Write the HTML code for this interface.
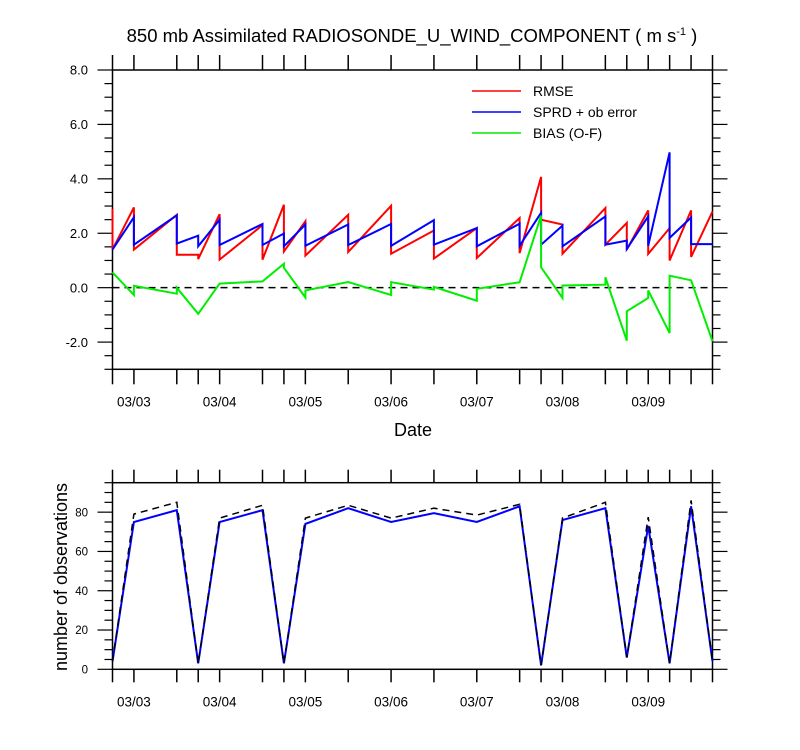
<!DOCTYPE html>
<html><head><meta charset="utf-8"><style>
html,body{margin:0;padding:0;background:#fff;}
svg{display:block;font-family:"Liberation Sans",Arial,sans-serif;}
</style></head><body>
<svg id="chart" width="800" height="750" viewBox="0 0 800 750" xmlns="http://www.w3.org/2000/svg">
<rect width="800" height="750" fill="#fff"/>
<text x="412" y="42" font-size="18.5" text-anchor="middle">850 mb Assimilated RADIOSONDE_U_WIND_COMPONENT ( m s<tspan dy="-7" font-size="11">-1</tspan><tspan dy="7"> )</tspan></text>
<g id="top"></g>
<g id="bot"></g>
<g>
 <line x1="472" y1="91" x2="521" y2="91" stroke="#ff0000" stroke-width="1.5"/>
 <text x="533" y="96" font-size="14">RMSE</text>
 <line x1="472" y1="112" x2="521" y2="112" stroke="#0000ff" stroke-width="1.5"/>
 <text x="533" y="117" font-size="14">SPRD + ob error</text>
 <line x1="472" y1="133" x2="521" y2="133" stroke="#00ee00" stroke-width="1.5"/>
 <text x="533" y="138" font-size="14">BIAS (O-F)</text>
</g>
<text x="413" y="436" font-size="18" text-anchor="middle">Date</text>
<text x="0" y="0" font-size="18" text-anchor="middle" transform="translate(67,577) rotate(-90)">number of observations</text>
</svg>
<script>
// hours from 03/02 18Z
var times = [0,6,18,24,30,42,48,54,66,78,90,102,114,120,126,138,144,150,156,162,168];
var rmseA = [2.9,2.95,2.68,1.21,2.7,2.3,3.05,2.44,2.68,3.01,2.1,2.19,2.56,4.07,2.32,2.93,2.38,2.84,2.19,2.84,2.8];
var rmseB = [1.4,1.4,1.21,1.05,1.03,1.03,1.33,1.18,1.31,1.25,1.07,1.09,1.27,2.5,1.25,1.58,1.4,1.24,1.0,1.13,2.8];
var sprdA = [1.4,2.59,2.66,1.91,2.5,2.34,1.99,2.32,2.32,2.34,2.48,2.19,2.35,2.75,2.28,2.62,1.73,2.62,4.97,2.58,1.6];
var sprdB = [1.4,1.58,1.62,1.52,1.57,1.57,1.52,1.54,1.57,1.54,1.58,1.52,1.54,1.58,1.52,1.58,1.42,1.54,1.83,1.6,1.6];
var biasA = [0.56,-0.27,-0.22,-0.96,0.15,0.23,0.88,-0.36,0.21,-0.27,-0.07,-0.48,0.2,2.65,-0.38,0.11,-1.95,-0.38,-1.67,0.27,-1.97];
var biasB = [0.56,0.07,0.0,-0.96,0.15,0.23,0.73,-0.1,0.21,0.2,0.03,-0.04,0.2,0.75,0.08,0.38,-0.87,-0.1,0.44,0.27,-1.97];
var obsUsed = [4,75,81,3,75,81,3,74,82,75,79.5,75,83,2,76,82,6,73,3,83,4];
var obsTotal = [4,79,85,3,77,83.5,3,77,83.5,77,82,78.5,84,2,77,85,6,77.5,3,86,4];
var dateLabels = ["03/03","03/04","03/05","03/06","03/07","03/08","03/09"];
var dateHours = [6,30,54,78,102,126,150];
var topTicks = ["8.0","6.0","4.0","2.0","0.0","-2.0"];
var topTickVals = [8,6,4,2,0,-2];
var botTicks = ["0","20","40","60","80"];
var botTickVals = [0,20,40,60,80];

var NS="http://www.w3.org/2000/svg";
var X0=112.5,X1=712.5;
function xs(h){return X0+(X1-X0)*h/168;}
function mk(p,tag,attrs){var e=document.createElementNS(NS,tag);for(var k in attrs)e.setAttribute(k,attrs[k]);p.appendChild(e);return e;}

function panel(g,top,bot,ymin,ymax,major,minor,labels,labelVals,fs,ticklen,prefix){
  function ys(v){return bot-(bot-top)*(v-ymin)/(ymax-ymin);}
  for(var i=0;i<times.length;i++){
    var x=xs(times[i]);
    var t=mk(g,'line',{x1:x,x2:x,y1:top-ticklen,y2:top,stroke:'#000','stroke-width':1.5});
    
    
    var b=mk(g,'line',{x1:x,x2:x,y1:bot,y2:bot+ticklen,stroke:'#000','stroke-width':1.5});
    
    
  }
  for(var v=ymin;v<=ymax+1e-9;v+=minor){
    var y=ys(v);var isMaj=Math.abs(v/major-Math.round(v/major))<1e-6;
    var L=isMaj?15:8;
    var a=mk(g,'line',{x1:X0-L,x2:X0,y1:y,y2:y,stroke:'#000','stroke-width':1.2});
    
    
    var c=mk(g,'line',{x1:X1,x2:X1+L,y1:y,y2:y,stroke:'#000','stroke-width':1.2});
    
    
  }
  for(var j=0;j<labels.length;j++){
    var tl=mk(g,'text',{x:88,y:ys(labelVals[j])+fs*0.36,'font-size':fs,'text-anchor':'end'});
    tl.textContent=labels[j];
    
    
  }
  for(var k=0;k<dateLabels.length;k++){
    var dl=mk(g,'text',{x:xs(dateHours[k]),y:bot+37,'font-size':13.5,'text-anchor':'middle'});
    dl.textContent=dateLabels[k];
    
    
  }
  var fr=mk(g,'rect',{x:X0,y:top,width:X1-X0,height:bot-top,fill:'none',stroke:'#000','stroke-width':1.5});
  
  
  return ys;
}
function pairLine(g,ys,A,B,color,name){
  var d='';
  for(var i=0;i<times.length;i++){var x=xs(times[i]);d+=(i?'L':'M')+x.toFixed(1)+','+ys(A[i]).toFixed(1)+'L'+x.toFixed(1)+','+ys(B[i]).toFixed(1);}
  var p=mk(g,'path',{d:d,fill:'none',stroke:color,'stroke-width':2,'stroke-linejoin':'miter'});
  
  
}
function simpleLine(g,ys,A,color,name,dash){
  var d='';
  for(var i=0;i<times.length;i++){d+=(i?'L':'M')+xs(times[i]).toFixed(1)+','+ys(A[i]).toFixed(1);}
  var at={d:d,fill:'none',stroke:color,'stroke-width':dash?1.5:2};
  if(dash)at['stroke-dasharray']=dash;
  var p=mk(g,'path',at);
  
  
}
var gt=document.getElementById('top');
var ysT=panel(gt,70,369.3,-3,8,2,0.5,topTicks,topTickVals,13,15,'top-');
var zl=mk(gt,'line',{x1:X0,x2:X1,y1:ysT(0),y2:ysT(0),stroke:'#000','stroke-width':1.5,'stroke-dasharray':'7,5'});


pairLine(gt,ysT,rmseA,rmseB,'#ff0000','rmse-series');
pairLine(gt,ysT,sprdA,sprdB,'#0000ff','sprd-series');
pairLine(gt,ysT,biasA,biasB,'#00ee00','bias-series');

var gb=document.getElementById('bot');
var ysB=panel(gb,482.7,669.3,0,95,20,5,botTicks,botTickVals,11.5,13,'bottom-');
simpleLine(gb,ysB,obsUsed,'#0000ff','obs-used-series');
simpleLine(gb,ysB,obsTotal,'#000','obs-total-series','7,5');
</script>
</body></html>
